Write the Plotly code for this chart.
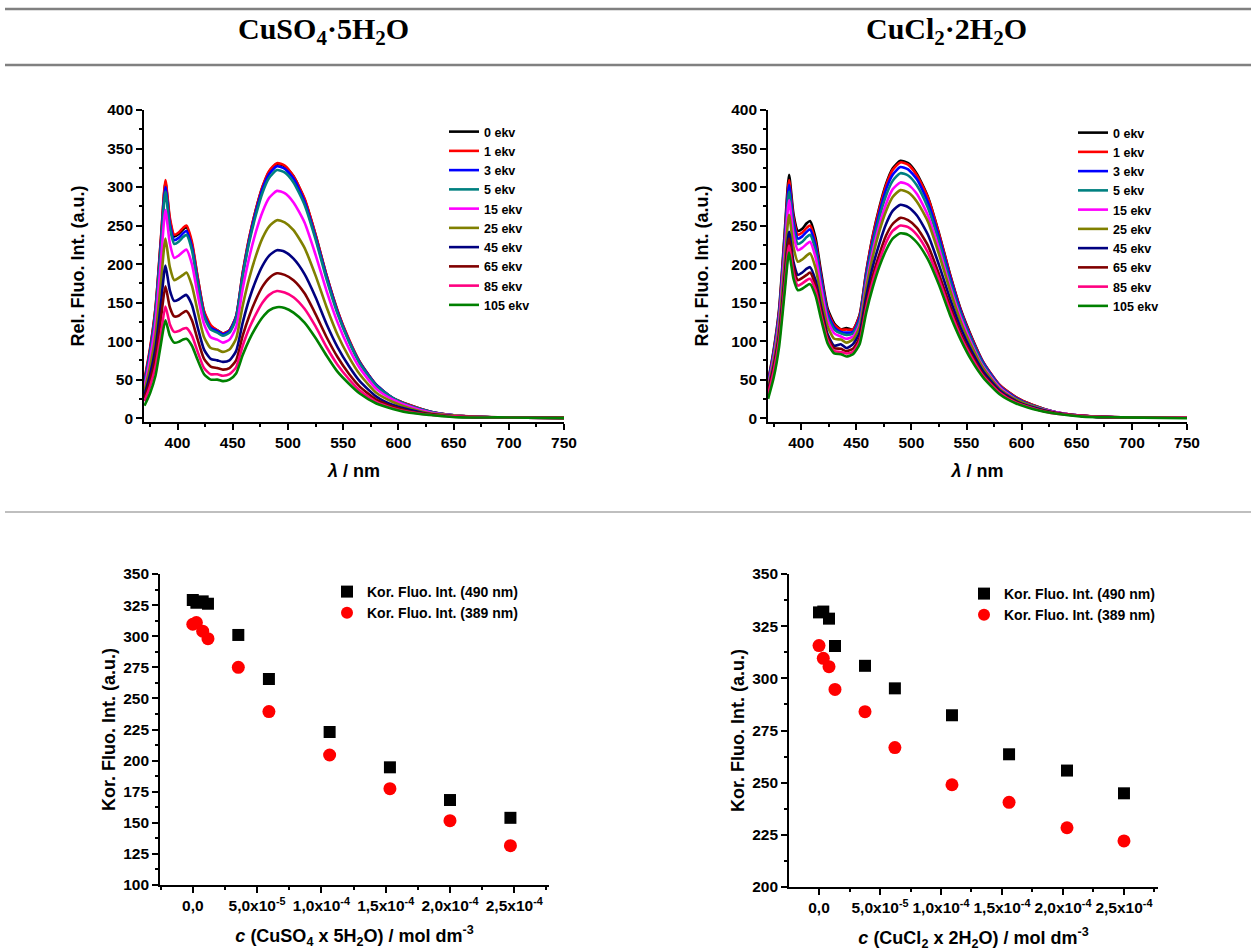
import plotly.graph_objects as go

W, H = 1251, 951
FONT = "Liberation Sans, Arial, sans-serif"
SERIF = "Liberation Serif, Times New Roman, serif"

# ---------------- data ----------------
labels = ["0 ekv", "1 ekv", "3 ekv", "5 ekv", "15 ekv", "25 ekv", "45 ekv", "65 ekv", "85 ekv", "105 ekv"]
colors = ["#000000", "#FF0000", "#0000FF", "#008080", "#FF00FF", "#808000", "#000080", "#800000", "#FF0080", "#008000"]

wl = [370, 375, 380, 385, 389, 393, 397, 401, 405, 408, 413, 418, 424, 430, 436, 441, 447, 453, 459, 465,
      471, 477, 483, 490, 497, 505, 515, 525, 535, 545, 555, 565, 580, 595, 610, 630, 655, 690, 750]

# CuSO4 x 5H2O spectra
so4_0 = [48, 88, 142, 233, 306, 257, 236, 239, 245, 248, 226, 184, 138, 119, 114, 110, 114, 132, 188, 234, 271, 300, 320, 330, 327, 314, 284, 238, 185, 139, 102, 73, 43, 26, 17, 8, 3, 1, 1]
so4_1 = [50, 90, 143, 235, 309, 260, 238, 241, 247, 250, 229, 185, 139, 121, 114, 110, 114, 132, 189, 235, 271, 301, 321, 331, 328, 314, 285, 238, 185, 139, 103, 73, 43, 26, 17, 8, 3, 1, 1]
so4_3 = [46, 86, 138, 228, 300, 252, 231, 234, 240, 243, 222, 180, 135, 117, 113, 109, 113, 131, 186, 232, 268, 298, 317, 327, 324, 311, 281, 235, 183, 137, 101, 72, 43, 26, 16, 8, 3, 1, 1]
so4_5 = [44, 83, 135, 223, 294, 247, 226, 229, 235, 238, 218, 176, 132, 115, 111, 107, 111, 129, 184, 229, 264, 293, 312, 322, 319, 306, 277, 232, 180, 135, 100, 71, 42, 26, 16, 8, 3, 1, 1]
so4_15 = [40, 76, 124, 205, 270, 227, 208, 211, 216, 219, 200, 162, 122, 105, 102, 98, 102, 118, 168, 209, 242, 268, 286, 295, 292, 280, 254, 212, 165, 124, 91, 65, 38, 24, 15, 7, 3, 1, 1]
so4_25 = [35, 66, 107, 177, 233, 196, 179, 182, 186, 189, 172, 140, 105, 91, 89, 86, 89, 103, 146, 182, 211, 234, 249, 257, 254, 244, 221, 185, 144, 108, 80, 57, 33, 21, 13, 6, 3, 1, 1]
so4_45 = [30, 56, 91, 150, 198, 166, 152, 154, 158, 160, 147, 119, 89, 77, 75, 73, 75, 87, 124, 155, 179, 198, 211, 218, 216, 207, 187, 157, 122, 92, 68, 48, 28, 17, 11, 5, 2, 1, 0]
so4_65 = [26, 48, 79, 130, 171, 144, 132, 133, 137, 139, 127, 103, 77, 67, 65, 63, 65, 75, 107, 133, 154, 171, 182, 188, 186, 179, 162, 135, 105, 79, 58, 41, 24, 15, 9, 5, 2, 1, 0]
so4_85 = [22, 41, 67, 110, 145, 122, 112, 113, 116, 117, 107, 87, 65, 57, 57, 55, 57, 66, 94, 117, 135, 150, 160, 165, 163, 157, 142, 119, 92, 69, 51, 36, 21, 13, 8, 4, 2, 1, 0]
so4_105 = [16, 32, 55, 97, 127, 107, 98, 99, 102, 103, 94, 76, 57, 50, 50, 48, 50, 58, 82, 102, 118, 131, 140, 144, 143, 137, 124, 104, 81, 60, 45, 32, 19, 12, 7, 4, 1, 1, 0]

# CuCl2 x 2H2O spectra
cl_0 = [48, 88, 142, 240, 316, 265, 243, 246, 253, 256, 234, 190, 142, 123, 115, 117, 115, 134, 190, 237, 274, 304, 324, 334, 331, 317, 287, 240, 187, 140, 104, 73, 43, 27, 17, 8, 3, 1, 1]
cl_1 = [47, 86, 139, 235, 309, 260, 238, 241, 247, 250, 229, 185, 139, 121, 115, 115, 115, 133, 189, 236, 272, 302, 322, 332, 329, 315, 286, 239, 186, 139, 103, 73, 43, 27, 17, 8, 3, 1, 1]
cl_3 = [46, 84, 136, 230, 303, 255, 233, 236, 242, 245, 224, 182, 136, 118, 112, 111, 112, 130, 186, 231, 267, 297, 316, 326, 323, 310, 280, 235, 183, 137, 101, 72, 42, 26, 16, 8, 3, 1, 1]
cl_5 = [44, 81, 132, 223, 294, 247, 226, 229, 235, 238, 218, 176, 132, 115, 110, 108, 110, 127, 181, 226, 261, 289, 308, 318, 315, 302, 273, 229, 178, 134, 99, 70, 41, 25, 16, 8, 3, 1, 1]
cl_15 = [42, 78, 127, 215, 283, 238, 218, 221, 226, 229, 209, 170, 127, 110, 106, 103, 106, 122, 174, 217, 251, 278, 297, 306, 303, 291, 263, 220, 171, 129, 95, 67, 40, 24, 15, 8, 3, 1, 1]
cl_25 = [39, 73, 119, 201, 264, 222, 203, 206, 211, 214, 195, 158, 119, 103, 102, 98, 102, 118, 169, 210, 243, 269, 287, 296, 293, 281, 255, 213, 166, 124, 92, 65, 38, 24, 15, 7, 3, 1, 1]
cl_45 = [36, 67, 109, 184, 242, 203, 186, 189, 194, 196, 179, 145, 109, 94, 96, 91, 96, 111, 158, 197, 227, 252, 269, 277, 274, 263, 238, 199, 155, 116, 86, 61, 36, 22, 14, 7, 3, 1, 1]
cl_65 = [34, 64, 105, 177, 233, 196, 179, 182, 186, 189, 172, 140, 105, 91, 90, 87, 90, 104, 148, 185, 213, 237, 252, 260, 257, 247, 224, 187, 146, 109, 81, 57, 34, 21, 13, 7, 3, 1, 1]
cl_85 = [31, 60, 101, 170, 224, 188, 172, 175, 179, 181, 166, 134, 101, 87, 86, 84, 86, 100, 143, 178, 205, 228, 243, 250, 248, 238, 215, 180, 140, 105, 78, 55, 33, 20, 13, 6, 3, 1, 1]
cl_105 = [25, 52, 93, 163, 215, 181, 166, 168, 172, 174, 159, 129, 97, 84, 83, 80, 83, 96, 137, 170, 197, 218, 233, 240, 238, 228, 206, 173, 134, 101, 74, 53, 31, 19, 12, 6, 2, 1, 0]

so4_spectra = [so4_0, so4_1, so4_3, so4_5, so4_15, so4_25, so4_45, so4_65, so4_85, so4_105]
cl_spectra = [cl_0, cl_1, cl_3, cl_5, cl_15, cl_25, cl_45, cl_65, cl_85, cl_105]

# corrected intensities vs. concentration
c_so4 = [0.0, 2.8e-6, 7.7e-6, 1.18e-5, 3.54e-5, 5.92e-5, 1.064e-4, 1.533e-4, 2.0e-4, 2.47e-4]
so4_490 = [329.1, 326.9, 328.0, 326.1, 301.0, 265.6, 223.0, 194.6, 168.3, 154.0]
so4_389 = [309.6, 311.0, 304.0, 298.0, 275.0, 239.4, 204.5, 177.4, 151.7, 131.6]

c_cl = [0.0, 3.5e-6, 8.2e-6, 1.31e-5, 3.77e-5, 6.22e-5, 1.09e-4, 1.558e-4, 2.033e-4, 2.5e-4]
cl_490 = [331.6, 332.0, 328.6, 315.5, 306.0, 295.2, 282.3, 263.6, 255.8, 244.9]
cl_389 = [315.7, 309.6, 305.6, 294.7, 284.0, 266.8, 249.0, 240.6, 228.4, 222.1]

c_tickvals = [0, 5e-5, 1e-4, 1.5e-4, 2e-4, 2.5e-4]
c_ticktext = ["0,0", "5,0x10<sup>-5</sup>", "1,0x10<sup>-4</sup>", "1,5x10<sup>-4</sup>",
              "2,0x10<sup>-4</sup>", "2,5x10<sup>-4</sup>"]

# ---------------- figure ----------------
fig = go.Figure()

for i in range(10):
    fig.add_trace(go.Scatter(x=wl, y=so4_spectra[i], mode="lines", name=labels[i],
                             line=dict(color=colors[i], width=2.6, shape="spline", smoothing=0.6),
                             xaxis="x", yaxis="y", legend="legend"))
for i in range(10):
    fig.add_trace(go.Scatter(x=wl, y=cl_spectra[i], mode="lines", name=labels[i],
                             line=dict(color=colors[i], width=2.6, shape="spline", smoothing=0.6),
                             xaxis="x2", yaxis="y2", legend="legend2"))

fig.add_trace(go.Scatter(x=c_so4, y=so4_490, mode="markers", name="Kor. Fluo. Int. (490 nm)",
                         marker=dict(symbol="square", size=12, color="black"),
                         xaxis="x3", yaxis="y3", legend="legend3"))
fig.add_trace(go.Scatter(x=c_so4, y=so4_389, mode="markers", name="Kor. Fluo. Int. (389 nm)",
                         marker=dict(symbol="circle", size=13, color="#FF0000"),
                         xaxis="x3", yaxis="y3", legend="legend3"))
fig.add_trace(go.Scatter(x=c_cl, y=cl_490, mode="markers", name="Kor. Fluo. Int. (490 nm)",
                         marker=dict(symbol="square", size=12, color="black"),
                         xaxis="x4", yaxis="y4", legend="legend4"))
fig.add_trace(go.Scatter(x=c_cl, y=cl_389, mode="markers", name="Kor. Fluo. Int. (389 nm)",
                         marker=dict(symbol="circle", size=13, color="#FF0000"),
                         xaxis="x4", yaxis="y4", legend="legend4"))


def px_x(p):
    return p / W


def px_y(p):
    return 1 - p / H


def axis(domain, rng, anchor, title, tfont=18, standoff=10, **kw):
    d = dict(domain=domain, range=rng, anchor=anchor, showline=True, linecolor="black", linewidth=1.6,
             ticks="outside", ticklen=6, tickwidth=1.5, tickcolor="black", showgrid=False, zeroline=False,
             mirror=False, automargin=False,
             tickfont=dict(family=FONT, size=15.5, color="black", weight="bold"),
             title=dict(text=title, font=dict(family=FONT, size=tfont, color="black", weight="bold"),
                        standoff=standoff))
    d.update(kw)
    return d


minor_top_x = dict(ticks="outside", ticklen=3.5, tickwidth=1.5, tickcolor="black", dtick=25)
minor_top_y = dict(ticks="outside", ticklen=3.5, tickwidth=1.5, tickcolor="black", dtick=25)
minor_bot_x = dict(ticks="outside", ticklen=3.5, tickwidth=1.5, tickcolor="black", dtick=2.5e-5, tick0=0)
minor_bot_y = dict(ticks="outside", ticklen=3.5, tickwidth=1.5, tickcolor="black", dtick=12.5)

top_ydom = [px_y(422), px_y(110)]
fig.update_layout(
    xaxis=axis([px_x(144), px_x(564)], [369.6, 750], "y", "<i>λ</i> / nm", dtick=50, tick0=0,
               minor=minor_top_x, standoff=14),
    yaxis=axis(top_ydom, [-5, 400], "x", "Rel. Fluo. Int. (a.u.)", dtick=50, tick0=0,
               minor=minor_top_y, standoff=18),
    xaxis2=axis([px_x(768), px_x(1187)], [369.9, 750], "y2", "<i>λ</i> / nm", dtick=50, tick0=0,
                minor=minor_top_x, standoff=14),
    yaxis2=axis(top_ydom, [-5, 400], "x2", "Rel. Fluo. Int. (a.u.)", dtick=50, tick0=0,
                minor=minor_top_y, standoff=18),
    xaxis3=axis([px_x(160), px_x(549)], [-2.55e-5, 2.77e-4], "y3",
                "<i>c</i> (CuSO<sub>4</sub> x 5H<sub>2</sub>O) / mol dm<sup>-3</sup>",
                tickmode="array", tickvals=c_tickvals, ticktext=c_ticktext, minor=minor_bot_x, standoff=16),
    yaxis3=axis([px_y(885), px_y(574)], [100, 350], "x3", "Kor. Fluo. Int. (a.u.)", dtick=25, tick0=0,
                minor=minor_bot_y, standoff=3),
    xaxis4=axis([px_x(789), px_x(1158)], [-2.46e-5, 2.779e-4], "y4",
                "<i>c</i> (CuCl<sub>2</sub> x 2H<sub>2</sub>O) / mol dm<sup>-3</sup>",
                tickmode="array", tickvals=c_tickvals, ticktext=c_ticktext, minor=minor_bot_x, standoff=16),
    yaxis4=axis([px_y(887), px_y(574)], [200, 350], "x4", "Kor. Fluo. Int. (a.u.)", dtick=25, tick0=0,
                minor=minor_bot_y, standoff=3),
)

leg_top_font = dict(family=FONT, size=12.5, color="black", weight="bold")
leg_bot_font = dict(family=FONT, size=14, color="black", weight="bold")
fig.update_layout(
    legend=dict(x=px_x(444), y=px_y(117), xanchor="left", yanchor="top", font=leg_top_font,
                bgcolor="rgba(0,0,0,0)", tracegroupgap=0, itemwidth=30),
    legend2=dict(x=px_x(1073), y=px_y(118), xanchor="left", yanchor="top", font=leg_top_font,
                 bgcolor="rgba(0,0,0,0)", tracegroupgap=0, itemwidth=30),
    legend3=dict(x=px_x(327), y=px_y(576), xanchor="left", yanchor="top", font=leg_bot_font,
                 bgcolor="rgba(0,0,0,0)", tracegroupgap=0, itemsizing="constant"),
    legend4=dict(x=px_x(964), y=px_y(578), xanchor="left", yanchor="top", font=leg_bot_font,
                 bgcolor="rgba(0,0,0,0)", tracegroupgap=0, itemsizing="constant"),
)

# header texts and separator lines
fig.add_annotation(text="<b>CuSO<sub>4</sub>·5H<sub>2</sub>O</b>", x=px_x(323), y=px_y(31),
                   xref="paper", yref="paper", xanchor="center", yanchor="middle", showarrow=False,
                   font=dict(family=SERIF, size=30, color="black"))
fig.add_annotation(text="<b>CuCl<sub>2</sub>·2H<sub>2</sub>O</b>", x=px_x(946), y=px_y(31),
                   xref="paper", yref="paper", xanchor="center", yanchor="middle", showarrow=False,
                   font=dict(family=SERIF, size=30, color="black"))
for yy, wdt in [(9, 2.5), (65, 2.5), (512, 1.2)]:
    fig.add_shape(type="line", xref="paper", yref="paper", x0=px_x(5), x1=1, y0=px_y(yy), y1=px_y(yy),
                  line=dict(color="#808080", width=wdt))

fig.update_layout(template="none", width=W, height=H, margin=dict(l=0, r=0, t=0, b=0, pad=0),
                  paper_bgcolor="white", plot_bgcolor="white", showlegend=True,
                  font=dict(family=FONT, color="black"))

fig.write_html("out.html", config={"displayModeBar": False},
               post_script="document.body.style.margin='0px';document.body.style.overflow='hidden';")
